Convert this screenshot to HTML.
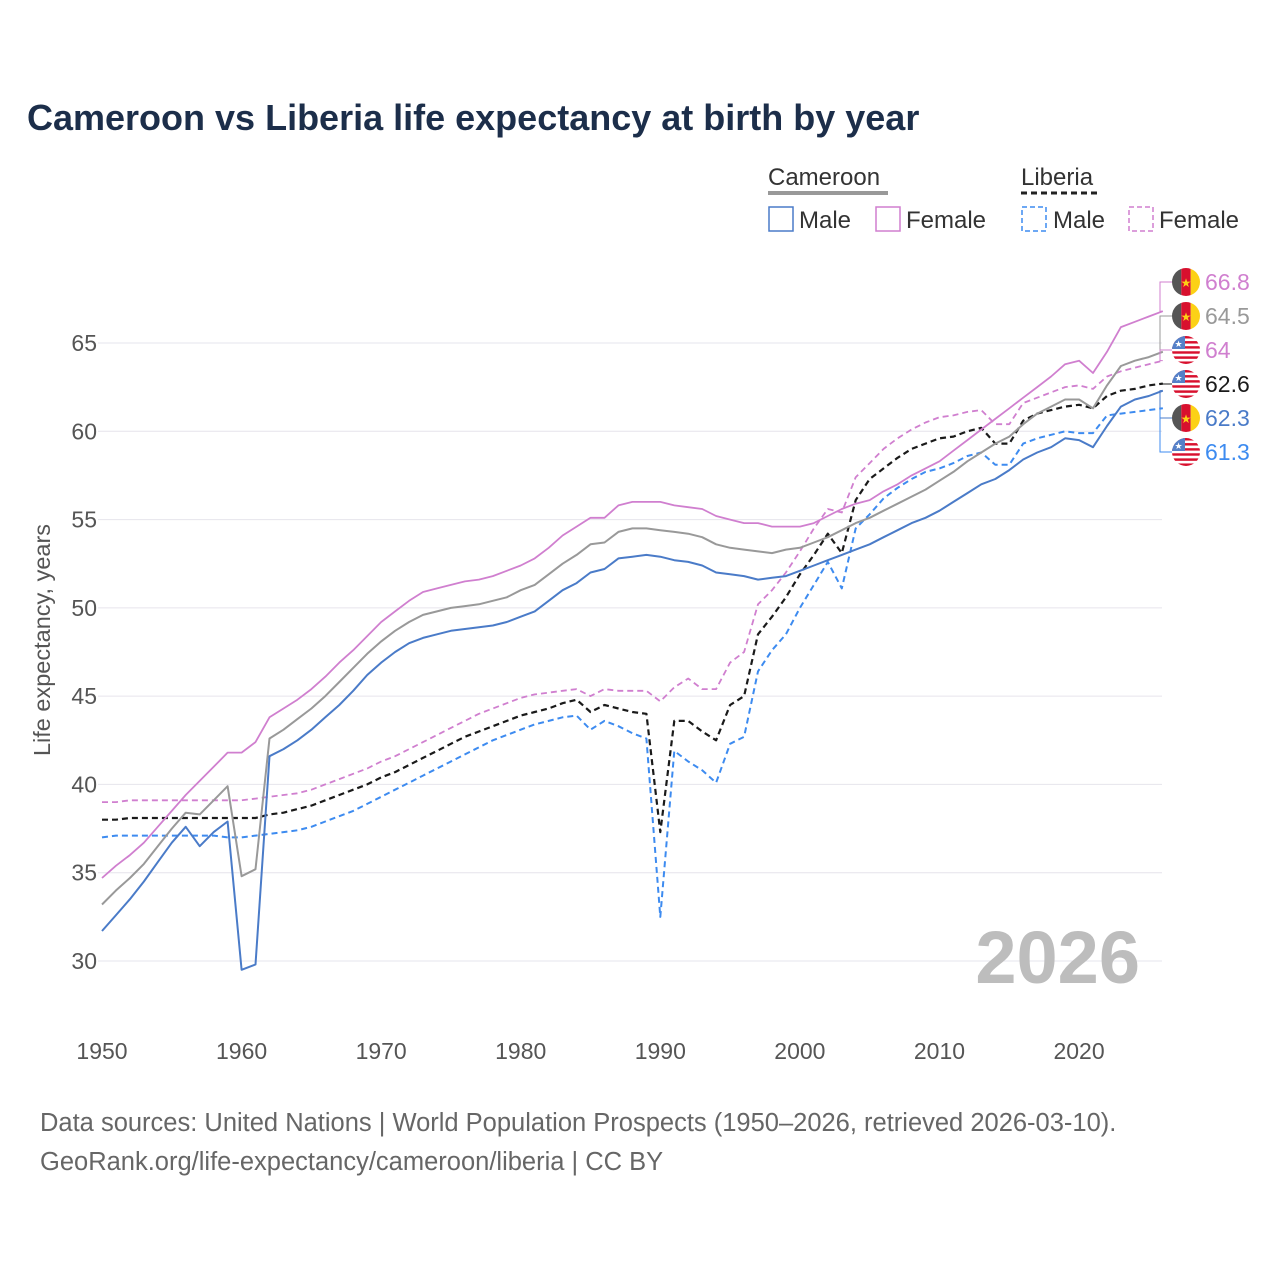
<!DOCTYPE html>
<html><head><meta charset="utf-8"><style>
body{margin:0;background:#fff;font-family:"Liberation Sans",sans-serif}
svg text{font-family:"Liberation Sans",sans-serif}
</style></head><body>
<svg id="chart" width="1280" height="1280" viewBox="0 0 1280 1280" xmlns="http://www.w3.org/2000/svg">
<rect width="1280" height="1280" fill="#fff"/>
<text x="27" y="130" font-size="36" font-weight="bold" fill="#1c2e4a">Cameroon vs Liberia life expectancy at birth by year</text>
<g font-size="24" fill="#333">
 <text x="768" y="185" fill="#333">Cameroon</text>
 <line x1="768" y1="193" x2="888" y2="193" stroke="#999" stroke-width="4"/>
 <text x="1021" y="185">Liberia</text>
 <line x1="1021" y1="193" x2="1100" y2="193" stroke="#222" stroke-width="3" stroke-dasharray="6,4"/>
 <g><rect x="769" y="207" width="24" height="24" fill="none" stroke="#4a7bc8" stroke-width="1.5"/><text x="799" y="228">Male</text></g>
 <g><rect x="876" y="207" width="24" height="24" fill="none" stroke="#d07fcf" stroke-width="1.5"/><text x="906" y="228">Female</text></g>
 <g><rect x="1022" y="207" width="24" height="24" fill="none" stroke="#3d8bf0" stroke-width="1.5" stroke-dasharray="5,3"/><text x="1053" y="228">Male</text></g>
 <g><rect x="1129" y="207" width="24" height="24" fill="none" stroke="#d07fcf" stroke-width="1.5" stroke-dasharray="5,3"/><text x="1159" y="228">Female</text></g>
</g>
<g id="grid"></g><g id="axes"></g><g id="series"></g><g id="endlabels"></g>
<text transform="translate(50,640) rotate(-90)" text-anchor="middle" font-size="23.5" fill="#555">Life expectancy, years</text>
<text x="1140" y="983" text-anchor="end" font-size="74" font-weight="bold" fill="#bdbdbd">2026</text>
<text x="40" y="1131" font-size="25.5" fill="#666">Data sources: United Nations | World Population Prospects (1950–2026, retrieved 2026-03-10).</text>
<text x="40" y="1170" font-size="25.5" fill="#666">GeoRank.org/life-expectancy/cameroon/liberia | CC BY</text>
</svg>
<script>
const years = Array.from({length:77},(_, i)=>1950+i);
const xTicks = [1950,1960,1970,1980,1990,2000,2010,2020];
const yTicks = [30,35,40,45,50,55,60,65];
const cameroonMale = [31.7,32.6,33.5,34.5,35.6,36.7,37.6,36.5,37.3,37.9,29.5,29.8,41.6,42.0,42.5,43.1,43.8,44.5,45.3,46.2,46.9,47.5,48.0,48.3,48.5,48.7,48.8,48.9,49.0,49.2,49.5,49.8,50.4,51.0,51.4,52.0,52.2,52.8,52.9,53.0,52.9,52.7,52.6,52.4,52.0,51.9,51.8,51.6,51.7,51.8,52.1,52.4,52.7,53.0,53.3,53.6,54.0,54.4,54.8,55.1,55.5,56.0,56.5,57.0,57.3,57.8,58.4,58.8,59.1,59.6,59.5,59.1,60.3,61.4,61.8,62.0,62.3];
const cameroonTotal = [33.2,34.0,34.7,35.5,36.5,37.5,38.4,38.3,39.1,39.9,34.8,35.2,42.6,43.1,43.7,44.3,45.0,45.8,46.6,47.4,48.1,48.7,49.2,49.6,49.8,50.0,50.1,50.2,50.4,50.6,51.0,51.3,51.9,52.5,53.0,53.6,53.7,54.3,54.5,54.5,54.4,54.3,54.2,54.0,53.6,53.4,53.3,53.2,53.1,53.3,53.4,53.7,54.0,54.4,54.8,55.1,55.5,55.9,56.3,56.7,57.2,57.7,58.3,58.8,59.3,59.7,60.4,61.0,61.4,61.8,61.8,61.3,62.6,63.7,64.0,64.2,64.5];
const cameroonFemale = [34.7,35.4,36.0,36.7,37.6,38.5,39.4,40.2,41.0,41.8,41.8,42.4,43.8,44.3,44.8,45.4,46.1,46.9,47.6,48.4,49.2,49.8,50.4,50.9,51.1,51.3,51.5,51.6,51.8,52.1,52.4,52.8,53.4,54.1,54.6,55.1,55.1,55.8,56.0,56.0,56.0,55.8,55.7,55.6,55.2,55.0,54.8,54.8,54.6,54.6,54.6,54.8,55.2,55.6,55.9,56.1,56.6,57.0,57.5,57.9,58.3,58.9,59.5,60.1,60.7,61.3,61.9,62.5,63.1,63.8,64.0,63.3,64.5,65.9,66.2,66.5,66.8];
const liberiaMale = [37.0,37.1,37.1,37.1,37.1,37.1,37.1,37.1,37.1,37.0,37.0,37.1,37.2,37.3,37.4,37.6,37.9,38.2,38.5,38.9,39.3,39.7,40.1,40.5,40.9,41.3,41.7,42.1,42.5,42.8,43.1,43.4,43.6,43.8,43.9,43.1,43.6,43.3,42.9,42.6,32.5,41.9,41.3,40.8,40.1,42.3,42.7,46.4,47.6,48.5,50.0,51.3,52.6,51.1,54.5,55.3,56.2,56.8,57.3,57.7,57.9,58.2,58.6,58.8,58.1,58.1,59.3,59.6,59.8,60.0,59.9,59.9,60.9,61.0,61.1,61.2,61.3];
const liberiaTotal = [38.0,38.0,38.1,38.1,38.1,38.1,38.1,38.1,38.1,38.1,38.1,38.1,38.3,38.4,38.6,38.8,39.1,39.4,39.7,40.0,40.4,40.7,41.1,41.5,41.9,42.3,42.7,43.0,43.3,43.6,43.9,44.1,44.3,44.6,44.8,44.1,44.5,44.3,44.1,44.0,37.3,43.6,43.6,43.0,42.5,44.5,45.0,48.5,49.5,50.6,51.9,53.0,54.2,53.1,56.1,57.3,57.9,58.5,59.0,59.3,59.6,59.7,60.0,60.2,59.3,59.3,60.6,61.0,61.2,61.4,61.5,61.3,62.0,62.3,62.4,62.6,62.7];
const liberiaFemale = [39.0,39.0,39.1,39.1,39.1,39.1,39.1,39.1,39.1,39.1,39.1,39.2,39.3,39.4,39.5,39.7,40.0,40.3,40.6,40.9,41.3,41.6,42.0,42.4,42.8,43.2,43.6,44.0,44.3,44.6,44.9,45.1,45.2,45.3,45.4,45.0,45.4,45.3,45.3,45.3,44.7,45.5,46.0,45.4,45.4,46.9,47.5,50.2,51.0,52.0,53.2,54.5,55.6,55.4,57.4,58.2,59.0,59.6,60.1,60.5,60.8,60.9,61.1,61.2,60.4,60.4,61.6,61.9,62.2,62.5,62.6,62.4,63.1,63.4,63.6,63.8,64.0];
const endValues = ["66.8","64.5","64","62.6","62.3","61.3"];

const NS="http://www.w3.org/2000/svg";
const X0=102, X1=1162.8, Y30=961, Y65=343;
function xs(yr){return X0+(yr-1950)*(X1-X0)/76;}
function ys(v){return Y30+(v-30)*(Y65-Y30)/35;}
function mk(tag,attrs,parent){const e=document.createElementNS(NS,tag);for(const k in attrs)e.setAttribute(k,attrs[k]);parent.appendChild(e);return e;}
const grid=document.getElementById('grid'), axes=document.getElementById('axes');
yTicks.forEach(t=>{
  const l=mk('line',{x1:98,x2:1162,y1:ys(t),y2:ys(t),stroke:'#e6e4ec','stroke-width':1},grid);
  
  
  const tx=mk('text',{x:97,y:ys(t)+8,'text-anchor':'end','font-size':23,fill:'#555'},axes);
  tx.textContent=t;
  
  
});
xTicks.forEach(t=>{
  const tx=mk('text',{x:xs(t),y:1059,'text-anchor':'middle','font-size':23,fill:'#555'},axes);
  tx.textContent=t;
  
  
});
const series=[
 {name:'liberia-female-line',d:liberiaFemale,c:'#d07fcf',dash:'6,4',w:1.8},
 {name:'liberia-male-line',d:liberiaMale,c:'#3d8bf0',dash:'6,4',w:2},
 {name:'liberia-total-line',d:liberiaTotal,c:'#1a1a1a',dash:'6,4',w:2.2},
 {name:'cameroon-female-line',d:cameroonFemale,c:'#d07fcf',dash:null,w:1.8},
 {name:'cameroon-total-line',d:cameroonTotal,c:'#999',dash:null,w:2},
 {name:'cameroon-male-line',d:cameroonMale,c:'#4a7bc8',dash:null,w:2},
];
const sg=document.getElementById('series');
series.forEach(s=>{
  const pts=s.d.map((v,i)=>xs(years[i]).toFixed(1)+','+ys(v).toFixed(1)).join(' ');
  const a={points:pts,fill:'none',stroke:s.c,'stroke-width':s.w,'stroke-linejoin':'round'};
  if(s.dash)a['stroke-dasharray']=s.dash;
  const p=mk('polyline',a,sg);
  
  
});
const labels=[
 {d:cameroonFemale,c:'#d07fcf',flag:'cm'},
 {d:cameroonTotal,c:'#999',flag:'cm'},
 {d:liberiaFemale,c:'#d07fcf',flag:'lr'},
 {d:liberiaTotal,c:'#1a1a1a',flag:'lr'},
 {d:cameroonMale,c:'#4a7bc8',flag:'cm'},
 {d:liberiaMale,c:'#3d8bf0',flag:'lr'},
];
const eg=document.getElementById('endlabels');
labels.forEach((L,i)=>{
  const ly=282+i*34, ey=ys(L.d[L.d.length-1]);
  const g=mk('g',{},eg);
  
  
  mk('polyline',{points:`${X1},${ey} 1160,${ey} 1160,${ly} 1172,${ly}`,fill:'none',stroke:L.c,'stroke-width':1},g);
  const cx=1186,r=14;
  const cp='clip'+i;
  const cl=mk('clipPath',{id:cp},g); mk('circle',{cx:cx,cy:ly,r:r},cl);
  const fg=mk('g',{'clip-path':`url(#${cp})`},g);
  if(L.flag==='cm'){
    mk('rect',{x:cx-r,y:ly-r,width:9.3,height:28,fill:'#555'},fg);
    mk('rect',{x:cx-r+9.3,y:ly-r,width:9.4,height:28,fill:'#d8102e'},fg);
    mk('rect',{x:cx-r+18.7,y:ly-r,width:9.3,height:28,fill:'#fcd116'},fg);
    const st=mk('text',{x:cx,y:ly+5,'text-anchor':'middle','font-size':12,fill:'#fcd116'},fg); st.textContent='★';
  } else {
    for(let k=0;k<11;k++) mk('rect',{x:cx-r,y:ly-r+k*28/11,width:28,height:28/11,fill:k%2?'#fff':'#d8102e'},fg);
    mk('rect',{x:cx-r,y:ly-r,width:13,height:13,fill:'#5580c8'},fg);
    const st=mk('text',{x:cx-7.5,y:ly-3,'text-anchor':'middle','font-size':9,fill:'#fff'},fg); st.textContent='★';
  }
  const t=mk('text',{x:1205,y:ly+8,'font-size':23,fill:L.c},g);
  t.textContent=endValues[i];
});
</script>
</body></html>
